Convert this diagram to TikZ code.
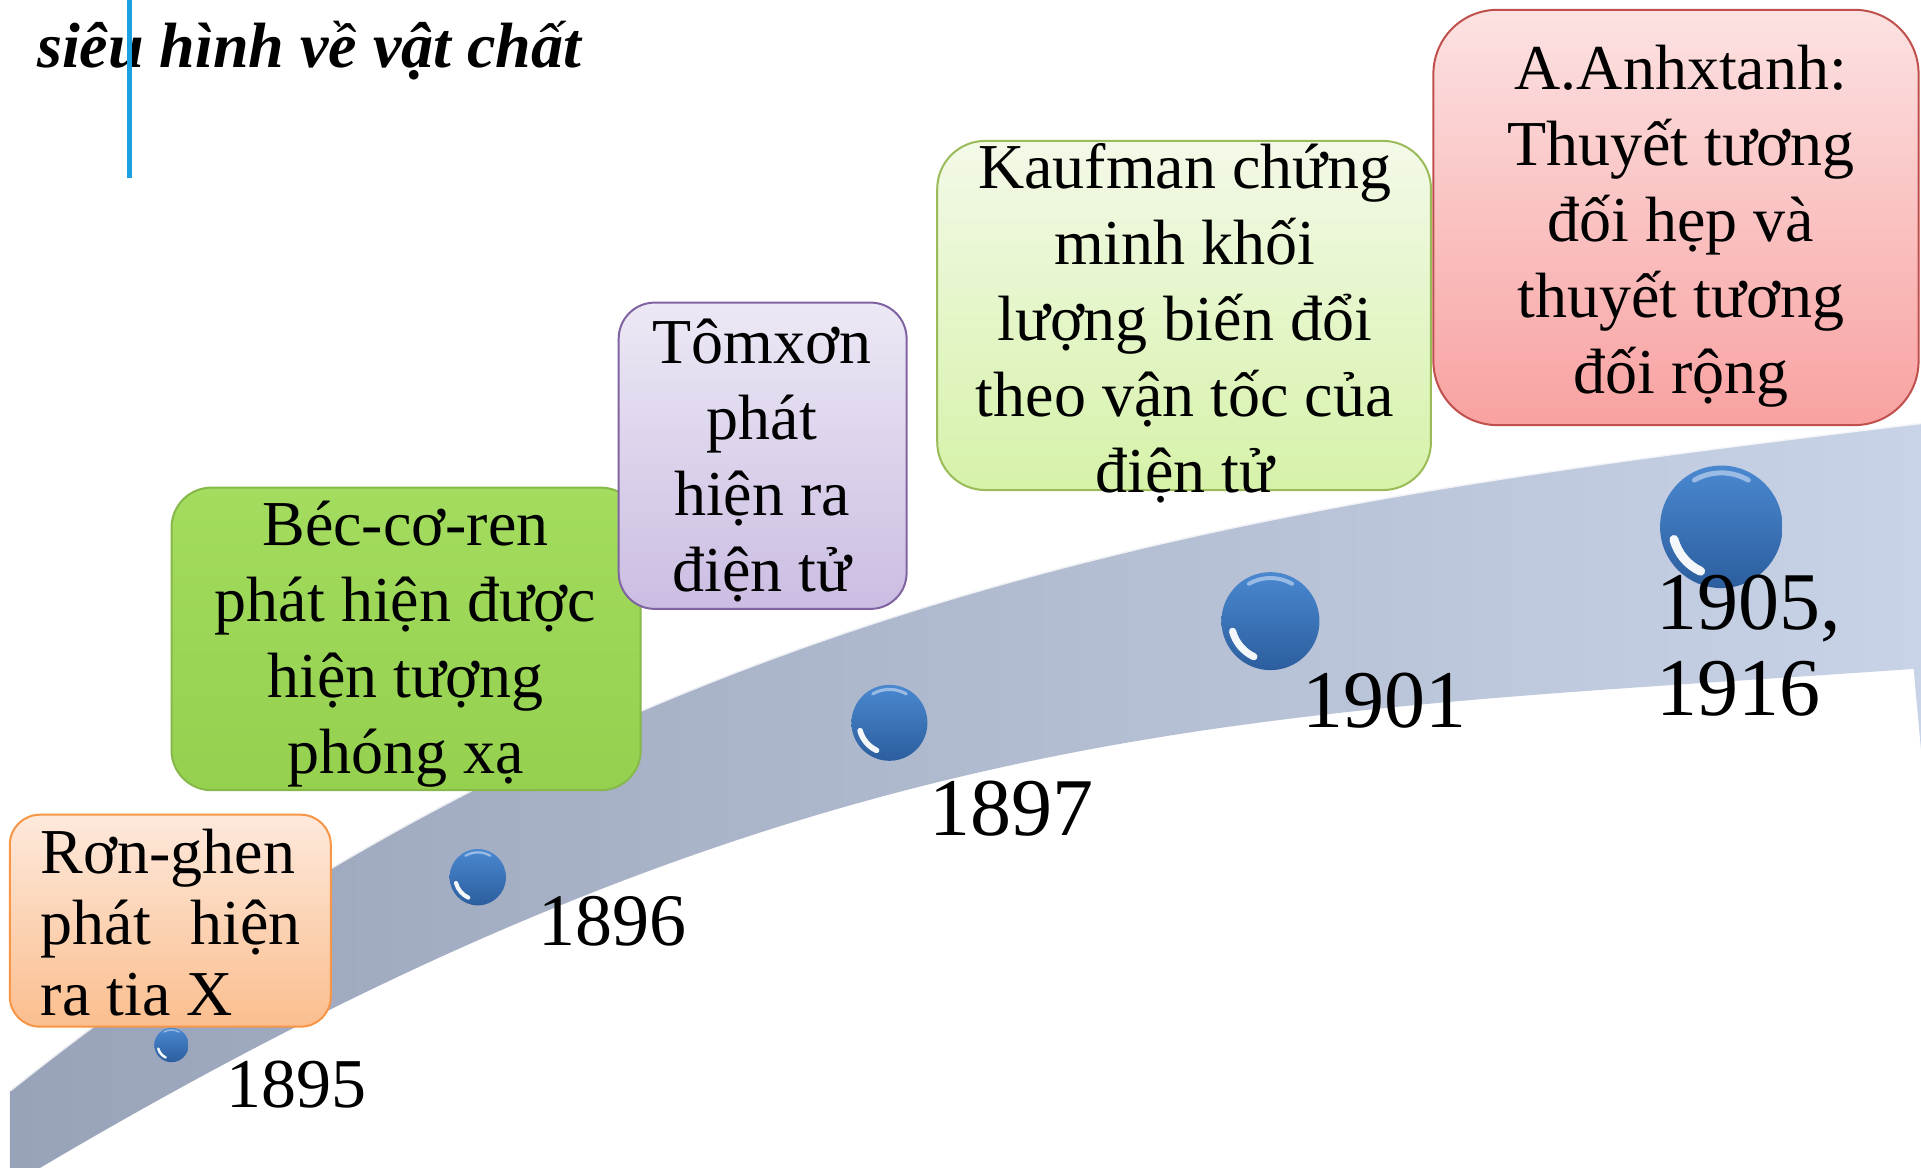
\documentclass[tikz,border=0pt]{standalone}
\usepackage{fontspec}
\setmainfont{Liberation Serif}
\definecolor{lineblue}{HTML}{1BA1E2}
\definecolor{bandL}{HTML}{98A2B8}
\definecolor{bandR}{HTML}{C9D3E7}
\definecolor{ballTop}{HTML}{4A88D0}
\definecolor{ballBot}{HTML}{2C5E9E}
\definecolor{oTop}{HTML}{FDE9DC}
\definecolor{oBot}{HTML}{FBBE8E}
\definecolor{oLine}{HTML}{F79646}
\definecolor{gTop}{HTML}{A3DC5E}
\definecolor{gBot}{HTML}{95D04F}
\definecolor{gLine}{HTML}{86B84A}
\definecolor{pTop}{HTML}{EDE8F5}
\definecolor{pBot}{HTML}{CBBDE2}
\definecolor{pLine}{HTML}{8064A2}
\definecolor{kTop}{HTML}{F3F9E8}
\definecolor{kBot}{HTML}{D6F2A9}
\definecolor{kLine}{HTML}{9BBB59}
\definecolor{rTop}{HTML}{FCE2E2}
\definecolor{rBot}{HTML}{F8A2A1}
\definecolor{rLine}{HTML}{C0504D}
\tikzset{
  boxtxt/.style={font=\fontsize{32}{38}\selectfont, align=center, inner sep=0pt},
  yeartxt/.style={inner sep=0pt},
  boxline/.style={line width=1pt}
}
\newcommand{\myball}[3]{%
  \shade[top color=ballTop, bottom color=ballBot] (#1,#2) circle [radius=#3];
  \draw[white!55!ballTop, opacity=.8, line width={#3*0.05pt}, line cap=round]
    ([shift={(240:{0.88*#3})}]#1,#2) arc [start angle=240, end angle=300, radius={0.88*#3}];
  \draw[white, opacity=.95, line width={#3*0.09pt}, line cap=round]
    ([shift={(115:{0.8*#3})}]#1,#2) arc [start angle=115, end angle=165, radius={0.8*#3}];
}
\begin{document}
\begin{tikzpicture}[x=0.6126pt, y=-0.6126pt]
\useasboundingbox (0,0) rectangle (1568,953);
\fill[white] (0,0) rectangle (1568,953);

% band
\shade[left color=bandL, right color=bandR]
  (8,890) .. controls (528,474) and (1048,407.6) .. (1568,345)
  -- (1568,612) -- (1562,546)
  .. controls (1012,584.5) and (658,578) .. (8,968) -- cycle;
\draw[white, opacity=.8, line width=1.5pt]
  (8,890) .. controls (528,474) and (1048,407.6) .. (1568,345);

% title
\node[anchor=base west, inner sep=0pt, font=\bfseries\itshape\fontsize{32}{38}\selectfont] (title) at (30,55) {siêu hình về vật chất};
\draw[lineblue, line width=2.5pt] (106,0) -- (106,145);

% balls
\myball{140}{853}{14}
\myball{390}{716}{23}
\myball{726}{590}{31}
\myball{1037}{507}{40}
\myball{1405}{430}{50}

% boxes
\draw[boxline, draw=oLine, top color=oTop, bottom color=oBot, rounded corners=15pt] (8,665) rectangle (270,838);
\node[font=\fontsize{32}{35.5}\selectfont, align=left, inner sep=0pt, anchor=west] (otext) at (33,753) {Rơn-ghen\\\makebox[130pt][s]{phát hiện}\\ra tia X};

\draw[boxline, draw=gLine, top color=gTop, bottom color=gBot, rounded corners=20pt] (140,398) rectangle (523,645);
\node[boxtxt] (gtext) at (331,526) {Béc-cơ-ren\\phát hiện được\\hiện tượng\\phóng xạ};

\draw[boxline, draw=pLine, top color=pTop, bottom color=pBot, rounded corners=18pt] (505,247) rectangle (740,497);
\node[boxtxt] (ptext) at (622,376) {Tômxơn\\phát\\hiện ra\\điện tử};

\draw[boxline, draw=kLine, top color=kTop, bottom color=kBot, rounded corners=24pt] (765,115) rectangle (1168,400);
\node[boxtxt] (ktext) at (967,264) {Kaufman chứng\\minh khối\\lượng biến đổi\\theo vận tốc của\\điện tử};

\draw[boxline, draw=rLine, top color=rTop, bottom color=rBot, rounded corners=32pt] (1170,8) rectangle (1566,347);
\node[boxtxt] (rtext) at (1372,185) {A.Anhxtanh:\\Thuyết tương\\đối hẹp và\\thuyết tương\\đối rộng};

% years
\node[yeartxt, font=\fontsize{35}{40}\selectfont] (y1895) at (242,885) {1895};
\node[yeartxt, font=\fontsize{37}{40}\selectfont] (y1896) at (500,752) {1896};
\node[yeartxt, font=\fontsize{41}{44}\selectfont] (y1897) at (826,660) {1897};
\node[yeartxt, font=\fontsize{41}{44}\selectfont] (y1901) at (1130,572) {1901};
\node[yeartxt, font=\fontsize{41}{43}\selectfont, align=left, anchor=west] (y1905) at (1352,527) {1905,\\1916};
\end{tikzpicture}
\end{document}
